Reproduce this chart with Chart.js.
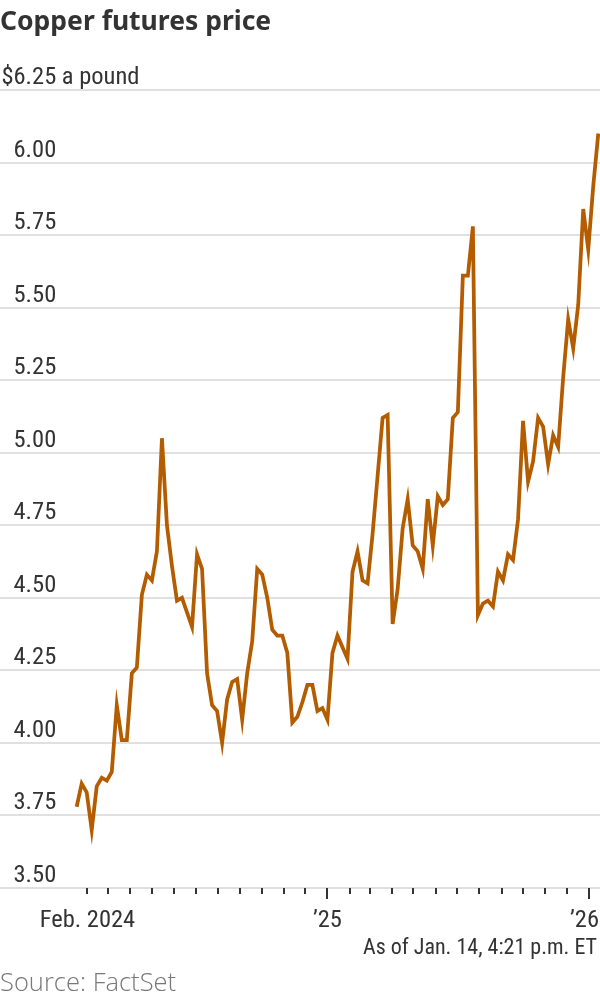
<!DOCTYPE html>
<html>
<head>
<meta charset="utf-8">
<script src="https://cdn.jsdelivr.net/npm/chart.js@4.4.1/dist/chart.umd.min.js"></script>
<style>
  html, body { margin: 0; padding: 0; background: #fff; }
  #wrap { position: relative; width: 600px; height: 1000px; overflow: hidden; }
  #c { position: absolute; left: 0; top: 0; }
  .t { position: absolute; white-space: nowrap; }
  #title { left: 0; top: 4px; font-family: "Noto Sans", "Open Sans", sans-serif; font-size: 26.5px; line-height: 32px; font-weight: bold; color: #333; }
  #asof { right: 3px; top: 933px; font-family: "Roboto Condensed", "Liberation Sans", sans-serif; font-size: 22px; line-height: 28px; color: #333; }
  #src { left: 0; top: 967px; font-family: "Open Sans", "Noto Sans", sans-serif; font-weight: 300; font-size: 25.5px; line-height: 28px; color: #777; }
</style>
</head>
<body>
<div id="wrap">
  <canvas id="c" width="600" height="1000"></canvas>
  <div class="t" id="title">Copper futures price</div>
  <div class="t" id="asof">As of Jan. 14, 4:21 p.m. ET</div>
  <div class="t" id="src">Source: FactSet</div>
</div>
<script>
// ---- data ----
const dates = [
  '2024-01-17','2024-01-24','2024-01-31','2024-02-07','2024-02-14','2024-02-21','2024-02-28',
  '2024-03-06','2024-03-13','2024-03-20','2024-03-27','2024-04-03','2024-04-10','2024-04-17','2024-04-24',
  '2024-05-01','2024-05-08','2024-05-15','2024-05-22','2024-05-29','2024-06-05','2024-06-12','2024-06-19','2024-06-26',
  '2024-07-03','2024-07-10','2024-07-17','2024-07-24','2024-07-31','2024-08-07','2024-08-14','2024-08-21','2024-08-28',
  '2024-09-04','2024-09-11','2024-09-18','2024-09-25','2024-10-02','2024-10-09','2024-10-16','2024-10-23','2024-10-30',
  '2024-11-06','2024-11-13','2024-11-20','2024-11-27','2024-12-04','2024-12-11','2024-12-18','2024-12-25',
  '2025-01-01','2025-01-08','2025-01-15','2025-01-22','2025-01-29','2025-02-05','2025-02-12','2025-02-19','2025-02-26',
  '2025-03-05','2025-03-12','2025-03-19','2025-03-26','2025-04-02','2025-04-09','2025-04-16','2025-04-23','2025-04-30',
  '2025-05-07','2025-05-14','2025-05-21','2025-05-28','2025-06-04','2025-06-11','2025-06-18','2025-06-25',
  '2025-07-02','2025-07-09','2025-07-16','2025-07-23','2025-07-30','2025-08-06','2025-08-13','2025-08-20','2025-08-27',
  '2025-09-03','2025-09-10','2025-09-17','2025-09-24','2025-10-01','2025-10-08','2025-10-15','2025-10-22','2025-10-29',
  '2025-11-05','2025-11-12','2025-11-19','2025-11-26','2025-12-03','2025-12-10','2025-12-17','2025-12-24','2025-12-31',
  '2026-01-07','2026-01-14'
];
const prices = [
  3.78,3.86,3.83,3.70,3.85,3.88,3.87,3.90,4.13,4.01,
  4.01,4.24,4.26,4.51,4.58,4.56,4.66,5.05,4.75,4.61,
  4.49,4.50,4.45,4.40,4.65,4.60,4.24,4.13,4.11,4.00,
  4.15,4.21,4.22,4.08,4.24,4.35,4.60,4.58,4.50,4.39,
  4.37,4.37,4.31,4.07,4.09,4.14,4.20,4.20,4.11,4.12,
  4.08,4.31,4.37,4.33,4.29,4.59,4.66,4.56,4.55,4.72,
  4.92,5.12,5.13,4.41,4.53,4.74,4.84,4.68,4.66,4.60,
  4.84,4.68,4.85,4.82,4.84,5.12,5.14,5.61,5.61,5.78,
  4.44,4.48,4.49,4.47,4.59,4.56,4.65,4.63,4.77,5.11,
  4.90,4.97,5.12,5.09,4.96,5.06,5.02,5.26,5.46,5.36,
  5.51,5.84,5.70,5.92,6.10
];
const yTickValues = [3.50,3.75,4.00,4.25,4.50,4.75,5.00,5.25,5.50,5.75,6.00,6.25];
const yTickLabels = ['3.50','3.75','4.00','4.25','4.50','4.75','5.00','5.25','5.50','5.75','6.00','$6.25 a pound'];
const monthTickDates = [
  '2024-02-01','2024-03-01','2024-04-01','2024-05-01','2024-06-01','2024-07-01','2024-08-01','2024-09-01',
  '2024-10-01','2024-11-01','2024-12-01','2025-01-01','2025-02-01','2025-03-01','2025-04-01','2025-05-01',
  '2025-06-01','2025-07-01','2025-08-01','2025-09-01','2025-10-01','2025-11-01','2025-12-01','2026-01-01'
];
const xLabelDates = ['2024-02-01','2025-01-01','2026-01-01'];
const xLabelTexts = ['Feb. 2024','\u201925','\u201926'];

// ---- helpers ----
const NARROW = '"Roboto Condensed", "Liberation Sans", sans-serif';
const BASE = Date.UTC(2024, 0, 1);
function dayNum(s) {
  const [y, m, d] = s.split('-').map(Number);
  return (Date.UTC(y, m - 1, d) - BASE) / 86400000;
}
const points = dates.map((d, i) => ({ x: dayNum(d), y: prices[i] }));

const overlay = {
  id: 'overlay',
  afterDraw(chart) {
    const { ctx, chartArea, scales: { x, y } } = chart;
    ctx.save();
    // x tick marks
    ctx.strokeStyle = '#333';
    ctx.lineWidth = 2;
    monthTickDates.forEach(d => {
      const px = Math.round(x.getPixelForValue(dayNum(d)));
      const major = d.endsWith('-01-01');
      ctx.beginPath();
      ctx.moveTo(px, chartArea.bottom);
      ctx.lineTo(px, chartArea.bottom + (major ? 11 : 6));
      ctx.stroke();
    });
    ctx.font = '24.5px ' + NARROW;
    ctx.fillStyle = '#333';
    ctx.textAlign = 'left';
    ctx.textBaseline = 'alphabetic';
    // x labels
    xLabelDates.forEach((d, i) => {
      const px = x.getPixelForValue(dayNum(d));
      const w = ctx.measureText(xLabelTexts[i]).width;
      let left = px - w / 2;
      if (left + w > chart.width - 1) left = chart.width - 1 - w;
      ctx.fillText(xLabelTexts[i], left, chartArea.bottom + 39);
    });
    // y labels, sitting on their gridlines
    yTickValues.forEach((v, i) => {
      const py = y.getPixelForValue(v);
      const txt = yTickLabels[i];
      let left = 13.5;
      if (txt.startsWith('$')) left -= ctx.measureText('$').width;
      ctx.fillText(txt, left, py - 6);
    });
    ctx.restore();
  }
};

new Chart(document.getElementById('c'), {
  type: 'line',
  data: {
    datasets: [{
      data: points,
      borderColor: '#b45c00',
      borderWidth: 3.75,
      pointRadius: 0,
      tension: 0,
      fill: false
    }]
  },
  options: {
    responsive: false,
    animation: false,
    devicePixelRatio: 1,
    layout: { padding: { top: 90, bottom: 112, left: 0, right: 0 } },
    plugins: { legend: { display: false }, tooltip: { enabled: false } },
    scales: {
      x: {
        type: 'linear',
        min: -91.0,
        max: 746.4,
        grid: { display: false, drawTicks: false },
        border: { display: false },
        ticks: { display: false }
      },
      y: {
        min: 3.5,
        max: 6.25,
        afterBuildTicks: (scale) => { scale.ticks = yTickValues.map(v => ({ value: v })); },
        grid: { color: '#e0e0e0', lineWidth: 2, drawTicks: false },
        border: { display: false },
        ticks: { display: false }
      }
    }
  },
  plugins: [overlay]
});
</script>
</body>
</html>
